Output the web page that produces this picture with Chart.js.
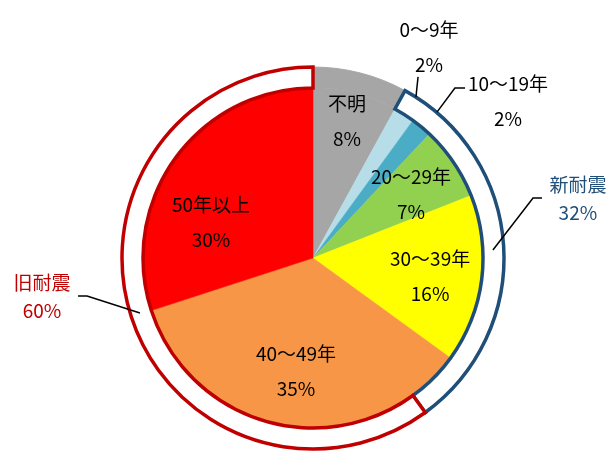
<!DOCTYPE html>
<html>
<head>
<meta charset="utf-8">
<script src="https://cdn.jsdelivr.net/npm/chart.js@4/dist/chart.umd.min.js"></script>
<style>
  html, body { margin: 0; padding: 0; background: #ffffff; }
  canvas { display: block; }
</style>
</head>
<body>
<canvas id="chart" width="612" height="451"></canvas>
<script>
// Building age bands and their shares (%)
const categories = ['不明', '0～9年', '10～19年', '20～29年', '30～39年', '40～49年', '50年以上'];
const shares = [8, 2, 2, 7, 16, 35, 30];
const sliceColors = ['#A6A6A6', '#B7DEE8', '#4BACC6', '#92D050', '#FFFF00', '#F79646', '#FF0000'];

// Seismic standard groups wrapped around the pie (unknown, new, old)
const groupNames = ['不明', '新耐震', '旧耐震'];
const groupShares = [8, 32, 60];
const groupFill = ['#A6A6A6', '#FFFFFF', '#FFFFFF'];
const groupEdge = ['#A6A6A6', '#1F4E79', '#C00000'];
const groupText = ['#000000', '#1F4E79', '#C00000'];

// Label anchors as multiples of the outer radius, relative to the pie centre
const sliceLabelPos = [
  [0.178, -0.717], [0.607, -1.105], [1.021, -0.822], [0.513, -0.335],
  [0.613, 0.094], [-0.089, 0.592], [-0.534, -0.188]
];
const groupLabelPos = [null, [1.387, -0.309], [-1.419, 0.204]];

// Leader lines (same units)
const leaders = [
  { color: '#000000', pts: [[0.539, -0.843], [0.550, -0.948]] },
  { color: '#000000', pts: [[0.649, -0.764], [0.743, -0.890], [0.796, -0.890]] },
  { color: '#000000', pts: [[0.942, -0.042], [1.152, -0.314], [1.199, -0.314]] },
  { color: '#000000', pts: [[-0.906, 0.288], [-1.183, 0.199], [-1.230, 0.199]] }
];

const FONT = '"Noto Sans CJK JP", "Noto Sans", sans-serif';

const labelPlugin = {
  id: 'pieLabels',
  afterDatasetsDraw(chart) {
    const ctx = chart.ctx;
    const ring = chart.getDatasetMeta(0).data[0];
    const cx = ring.x, cy = ring.y, R = ring.outerRadius;
    const at = (p) => [cx + p[0] * R, cy + p[1] * R];

    ctx.save();
    // leader lines
    leaders.forEach(l => {
      ctx.beginPath();
      l.pts.forEach((p, i) => {
        const [x, y] = at(p);
        if (i === 0) ctx.moveTo(x, y); else ctx.lineTo(x, y);
      });
      ctx.strokeStyle = l.color;
      ctx.lineWidth = 1.5;
      ctx.stroke();
    });

    ctx.textAlign = 'center';
    ctx.textBaseline = 'middle';
    ctx.font = '19px ' + FONT;
    ctx.fillStyle = '#000000';
    categories.forEach((name, i) => {
      const [x, y] = at(sliceLabelPos[i]);
      ctx.fillText(name, x, y - 17.5);
      ctx.fillText(shares[i] + '%', x, y + 17.5);
    });

    groupNames.forEach((name, i) => {
      const pos = groupLabelPos[i];
      if (!pos) return;
      const [x, y] = at(pos);
      ctx.fillStyle = groupText[i];
      ctx.fillText(name, x, y - 14);
      ctx.fillText(groupShares[i] + '%', x, y + 14);
    });
    ctx.restore();
  }
};

new Chart(document.getElementById('chart'), {
  type: 'pie',
  data: {
    labels: categories,
    datasets: [
      {
        // outer band: new / old seismic standard
        data: groupShares,
        backgroundColor: groupFill,
        borderColor: groupEdge,
        borderWidth: [1, 3.5, 3.5],
        borderJoinStyle: 'miter',
        weight: 21
      },
      {
        data: shares,
        backgroundColor: sliceColors,
        borderColor: sliceColors,
        borderWidth: 0.5,
        weight: 170
      }
    ]
  },
  options: {
    responsive: false,
    animation: false,
    events: [],
    radius: 191,
    layout: { padding: { left: 14, right: 0, top: 65, bottom: 0 } },
    plugins: {
      legend: { display: false },
      tooltip: { enabled: false }
    }
  },
  plugins: [labelPlugin]
});
</script>
</body>
</html>
